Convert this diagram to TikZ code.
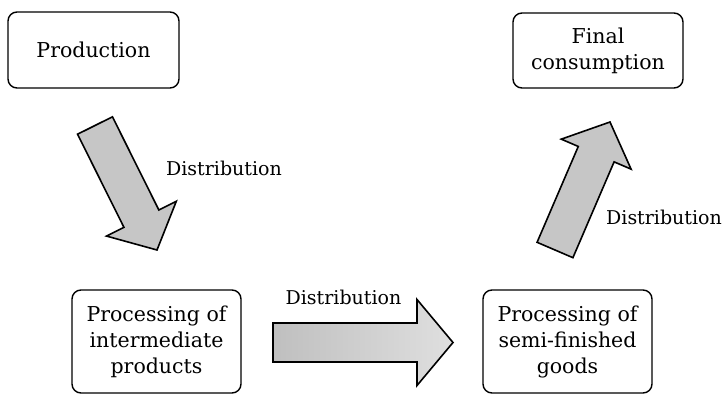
\documentclass[tikz,border=0pt]{standalone}
\usepackage{fontspec}
\setmainfont{DejaVu Serif}
\usetikzlibrary{calc}
\newcommand\fatarrow[6]{%
  \coordinate (j) at ($(#2)!#5!(#1)$);
  \draw[#6] ($(#1)!#3!90:(#2)$) -- ($(j)!#3!90:(#2)$) -- ($(j)!#4!90:(#2)$) -- (#2)
    -- ($(j)!#4!-90:(#2)$) -- ($(j)!#3!-90:(#2)$) -- ($(#1)!#3!-90:(#2)$) -- cycle;}
\begin{document}
\begin{tikzpicture}[x=1pt,y=-1pt,
  box/.style={draw, line width=1.4pt, rounded corners=9pt, align=center, inner sep=0pt,
    font=\fontsize{20.5}{26}\selectfont},
  lbl/.style={font=\fontsize{19}{24}\selectfont, inner sep=0pt},
  bigarrow/.style={draw, line width=1.6pt, fill=gray!45, line join=miter}]
\useasboundingbox[fill=white] (0,0) rectangle (724,394);

\node[box, minimum width=171pt, minimum height=76pt] (prod) at (93.5,50) {Production};
\node[box, minimum width=170pt, minimum height=75pt] (final) at (598,50.5) {Final\\consumption};
\node[box, minimum width=169pt, minimum height=103pt] (inter) at (156.5,341.5) {Processing of\\intermediate\\products};
\node[box, minimum width=169pt, minimum height=103pt] (semi) at (567.5,341.5) {Processing of\\semi-finished\\goods};

\coordinate (a1t) at (95,125.5);
\coordinate (a1p) at (157,250);
\coordinate (a2t) at (555,250);
\coordinate (a2p) at (610,122);
\coordinate (a3t) at (273,342.5);
\coordinate (a3p) at (453,342.5);

\fatarrow{a1t}{a1p}{19.5pt}{39pt}{35pt}{bigarrow}
\fatarrow{a2t}{a2p}{19.5pt}{38pt}{35pt}{bigarrow}
\fatarrow{a3t}{a3p}{19.5pt}{43pt}{36pt}{bigarrow, left color=gray!50, right color=gray!25}

\node[lbl] (l1) at (224,168) {Distribution};
\node[lbl] (l2) at (664,217) {Distribution};
\node[lbl] (l3) at (343.5,297) {Distribution};
\end{tikzpicture}
\end{document}
